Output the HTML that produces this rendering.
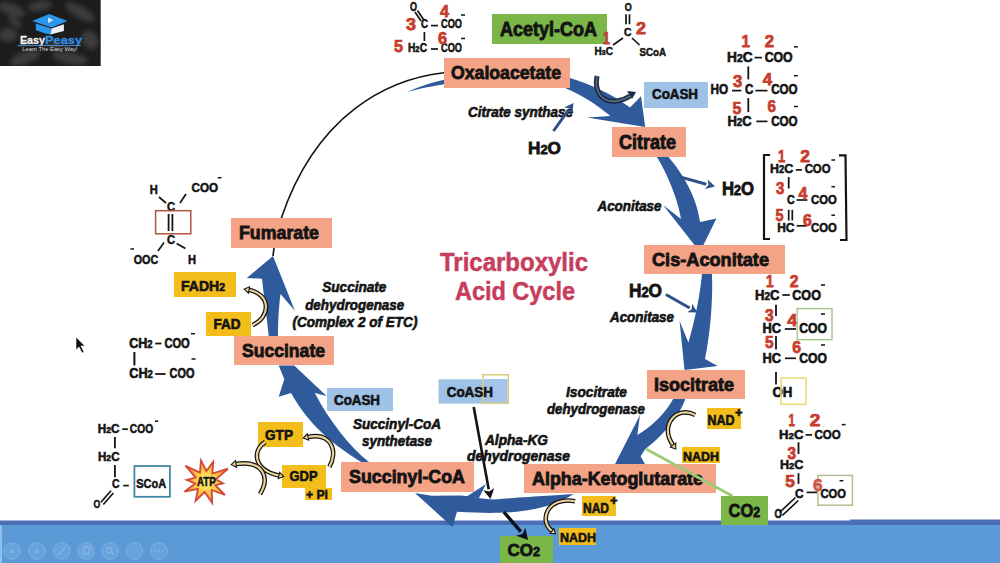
<!DOCTYPE html>
<html><head><meta charset="utf-8"><style>
html,body{margin:0;padding:0;background:#fff;}
svg{display:block;}
text{font-family:"Liberation Sans", sans-serif;}
</style></head><body>
<svg width="1000" height="563" viewBox="0 0 1000 563" fill="#141414" font-weight="bold">
<rect x="0" y="0" width="1000" height="563" fill="#ffffff" />
<rect x="0" y="525" width="1000" height="38" fill="#5b9ad6" />
<rect x="0" y="520.5" width="850" height="4.5" fill="#4a6db4" />
<rect x="850" y="519.5" width="150" height="5.5" fill="#4a6db4" />
<defs><filter id="bl" x="-20%" y="-20%" width="140%" height="140%"><feGaussianBlur stdDeviation="2.2"/></filter><clipPath id="lc"><rect x="0" y="0" width="100.7" height="66"/></clipPath></defs>
<rect x="0" y="0" width="100.7" height="66" fill="#1d1d1d" />
<g clip-path="url(#lc)" filter="url(#bl)" fill="#3a3a3a">
<ellipse cx="12" cy="10" rx="14" ry="6" transform="rotate(20 12 10)"/>
<ellipse cx="40" cy="6" rx="12" ry="5" transform="rotate(-10 40 6)"/>
<ellipse cx="80" cy="12" rx="16" ry="6" transform="rotate(30 80 12)"/>
<ellipse cx="8" cy="35" rx="10" ry="7" transform="rotate(0 8 35)"/>
<ellipse cx="90" cy="40" rx="10" ry="8" transform="rotate(60 90 40)"/>
<ellipse cx="25" cy="58" rx="16" ry="6" transform="rotate(-20 25 58)"/>
<ellipse cx="70" cy="58" rx="18" ry="6" transform="rotate(10 70 58)"/>
<ellipse cx="55" cy="45" rx="8" ry="4" transform="rotate(0 55 45)"/>
<ellipse cx="15" cy="22" rx="8" ry="4" transform="rotate(40 15 22)"/>
</g>
<path d="M32.2,21.1 L49.2,14.1 L67.4,21.1 L51.6,27.5 Z" fill="#2a96ec" />
<path d="M35.8,23.4 L51.6,28.5 L50.4,34.5 Q42,33 35.8,30 Z" fill="#2a96ec" />
<path d="M51.6,28.5 L63.9,24.2 L63.9,31 L50.4,34.5 Z" fill="#eef2f6" />
<path d="M48,17.4 L48,23 L53.3,20.2 Z" fill="#cfeaff" />
<text x="19.9" y="44" font-size="11.66" stroke="#f2f2f2" stroke-width="0.30" fill="#f2f2f2" textLength="25.2" lengthAdjust="spacingAndGlyphs" >Easy</text>
<text x="45.1" y="44" font-size="11.66" stroke="#2f8fe0" stroke-width="0.30" fill="#2f8fe0" textLength="37" lengthAdjust="spacingAndGlyphs" >Peasy</text>
<line x1="17.6" y1="45.6" x2="80.9" y2="45.6" stroke="#4f9fe6" stroke-width="0.9" />
<text x="22.3" y="51" font-size="5.83" font-weight="normal" fill="#d8d8d8" textLength="55.1" lengthAdjust="spacingAndGlyphs" >Learn The Easy Way!</text>
<path d="M444,72.7 C388,79 316,114 281,219" fill="none" stroke="#141414" stroke-width="1.6"/>
<path d="M273,256 L274,248" fill="none" stroke="#141414" stroke-width="1.6"/>
<path d="M407,92 Q425,84 444,79.8 L444,84.2 Q425,87 407,92 Z" fill="#2f5a9b" />
<path d="M570,78 C590,84 612,94 630,107.6 L641,96.2 L645.2,127 L587,117.5 L610.4,116 C596,104 582,95 566,88.4 Z" fill="#2f5a9b" />
<path d="M668.4,157 C678,168 696,192 700,222 L716.4,218.4 L700,252 L663,205 L681,219 C678,200 668,175 656.9,157 Z" fill="#2f5a9b" />
<path d="M711.9,274 C713,295 711,330 705,359 L717.7,365.9 L684.5,370 L679.6,320.9 L688.4,342.4 C695,320 700,295 702,274 Z" fill="#2f5a9b" />
<path d="M685.2,399 C682,410 668,432 645.3,449 L640.6,456.3 L646,466 L614,466 L640,415 L637.3,435 C650,428 665,414 673.2,399 Z" fill="#2f5a9b" />
<path d="M573.8,494 C560,495 530,496.5 495,499.5 C480,499 470,496 460,495.5 L431.6,495.8 L415,493 L452.4,527 L457,511.8 C475,513 490,513 500,512.8 C530,512 555,506 573.8,494 Z" fill="#2f5a9b" />
<path d="M466,497 L486,484 L479,498 Z" fill="#2f5a9b" />
<path d="M369,462 C350,447 330,422 314.8,393 L326.6,396 L294.2,365.6 L278.7,365.6 L284.3,379.3 L278.7,396.7 L291.1,393 C305,418 325,440 362,462.5 Z" fill="#2f5a9b" />
<path d="M278,336 C278,320 279,305 280.5,293.9 L294.9,310.8 L273,256 L246.8,277.9 L262,278.7 C264,298 267,318 268.7,336 Z" fill="#2f5a9b" />
<rect x="444" y="58" width="126" height="30" fill="#f5a386" />
<rect x="492" y="14" width="115" height="30" fill="#7ab648" />
<rect x="612" y="127" width="74" height="30" fill="#f5a386" />
<rect x="644" y="245" width="141" height="29" fill="#f5a386" />
<rect x="647" y="370" width="98" height="29" fill="#f5a386" />
<rect x="524" y="464" width="192" height="29" fill="#f5a386" />
<rect x="341" y="462" width="133" height="30" fill="#f5a386" />
<rect x="234" y="336" width="100" height="29" fill="#f5a386" />
<rect x="231" y="218" width="101" height="30" fill="#f5a386" />
<rect x="644" y="82" width="64" height="26" fill="#9fc3e7" />
<rect x="327" y="388" width="66" height="23" fill="#9fc3e7" />
<rect x="438.6" y="379.3" width="68.79999999999995" height="24.30000000000001" fill="#9fc3e7" />
<rect x="483.1" y="379.3" width="24.299999999999955" height="24.30000000000001" fill="#a6c3ec" />
<rect x="483.1" y="374.8" width="25.2" height="28.3" fill="none" stroke="#d6cf80" stroke-width="1.6"/>
<rect x="174" y="272" width="62" height="25" fill="#f3be1c" />
<rect x="206" y="312" width="45" height="24" fill="#f3be1c" />
<rect x="258" y="422" width="45" height="25" fill="#f3be1c" />
<rect x="282" y="465" width="44" height="23" fill="#f3be1c" />
<rect x="305" y="488" width="27" height="12" fill="#f3be1c" />
<rect x="707" y="408" width="34" height="21" fill="#f3be1c" />
<rect x="682" y="447" width="38" height="16" fill="#f3be1c" />
<rect x="582" y="496" width="34" height="20" fill="#f3be1c" />
<rect x="559" y="528" width="37" height="17" fill="#f3be1c" />
<rect x="721" y="496" width="47" height="29" fill="#7ab648" />
<rect x="500" y="536" width="53" height="27" fill="#7ab648" />
<text x="451" y="78.5" font-size="18.36" stroke="#141414" stroke-width="0.83" textLength="110" lengthAdjust="spacingAndGlyphs" >Oxaloacetate</text>
<text x="500" y="35.5" font-size="19.44" stroke="#141414" stroke-width="0.87" textLength="97" lengthAdjust="spacingAndGlyphs" >Acetyl-CoA</text>
<text x="619" y="148.5" font-size="19.44" stroke="#141414" stroke-width="0.87" textLength="57" lengthAdjust="spacingAndGlyphs" >Citrate</text>
<text x="652" y="266" font-size="18.36" stroke="#141414" stroke-width="0.83" textLength="117" lengthAdjust="spacingAndGlyphs" >Cis-Aconitate</text>
<text x="654" y="390.5" font-size="18.58" stroke="#141414" stroke-width="0.84" textLength="80" lengthAdjust="spacingAndGlyphs" >Isocitrate</text>
<text x="532" y="485" font-size="18.36" stroke="#141414" stroke-width="0.83" textLength="171" lengthAdjust="spacingAndGlyphs" >Alpha-Ketoglutarate</text>
<text x="349" y="483" font-size="18.36" stroke="#141414" stroke-width="0.83" textLength="116" lengthAdjust="spacingAndGlyphs" >Succinyl-CoA</text>
<text x="242" y="357" font-size="18.36" stroke="#141414" stroke-width="0.83" textLength="83" lengthAdjust="spacingAndGlyphs" >Succinate</text>
<text x="239" y="239" font-size="18.36" stroke="#141414" stroke-width="0.83" textLength="80" lengthAdjust="spacingAndGlyphs" >Fumarate</text>
<text x="652" y="99" font-size="14.04" stroke="#141414" stroke-width="0.63" textLength="46" lengthAdjust="spacingAndGlyphs" >CoASH</text>
<text x="334" y="405" font-size="14.04" stroke="#141414" stroke-width="0.63" textLength="46" lengthAdjust="spacingAndGlyphs" >CoASH</text>
<text x="446.7" y="396.8" font-size="15.12" stroke="#141414" stroke-width="0.68" textLength="46.3" lengthAdjust="spacingAndGlyphs" >CoASH</text>
<text x="181" y="290.5" font-size="14.04" stroke="#141414" stroke-width="0.63" textLength="44" lengthAdjust="spacingAndGlyphs" >FADH<tspan font-size="0.75em">2</tspan></text>
<text x="213.5" y="329" font-size="14.04" stroke="#141414" stroke-width="0.63" textLength="27" lengthAdjust="spacingAndGlyphs" >FAD</text>
<text x="265" y="439.8" font-size="14.04" stroke="#141414" stroke-width="0.63" textLength="28" lengthAdjust="spacingAndGlyphs" >GTP</text>
<text x="289.5" y="481.4" font-size="14.04" stroke="#141414" stroke-width="0.63" textLength="28" lengthAdjust="spacingAndGlyphs" >GDP</text>
<text x="306" y="498.5" font-size="12.96" stroke="#141414" stroke-width="0.58" textLength="22" lengthAdjust="spacingAndGlyphs" >+ Pi</text>
<text x="707.5" y="425" font-size="14.04" stroke="#141414" stroke-width="0.63" textLength="27" lengthAdjust="spacingAndGlyphs" >NAD</text>
<text x="735" y="417" font-size="12.96" stroke="#141414" stroke-width="0.58" >+</text>
<text x="683" y="461.2" font-size="12.96" stroke="#141414" stroke-width="0.58" textLength="36" lengthAdjust="spacingAndGlyphs" >NADH</text>
<text x="583" y="512.6" font-size="14.04" stroke="#141414" stroke-width="0.63" textLength="26" lengthAdjust="spacingAndGlyphs" >NAD</text>
<text x="610" y="505" font-size="12.96" stroke="#141414" stroke-width="0.58" >+</text>
<text x="560" y="542.3" font-size="12.96" stroke="#141414" stroke-width="0.58" textLength="36" lengthAdjust="spacingAndGlyphs" >NADH</text>
<text x="728.6" y="516.5" font-size="18.58" stroke="#141414" stroke-width="0.84" textLength="31.6" lengthAdjust="spacingAndGlyphs" >CO<tspan font-size="0.75em">2</tspan></text>
<text x="507.6" y="555.5" font-size="17.28" stroke="#141414" stroke-width="0.78" textLength="32.5" lengthAdjust="spacingAndGlyphs" >CO<tspan font-size="0.75em">2</tspan></text>
<text x="468" y="117.0" font-size="14.04" stroke="#141414" stroke-width="0.63" font-style="italic" textLength="105" lengthAdjust="spacingAndGlyphs" >Citrate synthase</text>
<text x="528" y="153.6" font-size="17.28" stroke="#141414" stroke-width="0.78" textLength="33" lengthAdjust="spacingAndGlyphs" >H<tspan font-size="0.75em">2</tspan>O</text>
<text x="597.5" y="211.3" font-size="14.04" stroke="#141414" stroke-width="0.63" font-style="italic" textLength="64" lengthAdjust="spacingAndGlyphs" >Aconitase</text>
<text x="722" y="194.7" font-size="18.36" stroke="#141414" stroke-width="0.83" textLength="32" lengthAdjust="spacingAndGlyphs" >H<tspan font-size="0.75em">2</tspan>O</text>
<text x="629" y="297" font-size="18.36" stroke="#141414" stroke-width="0.83" textLength="33" lengthAdjust="spacingAndGlyphs" >H<tspan font-size="0.75em">2</tspan>O</text>
<text x="610" y="321.6" font-size="14.04" stroke="#141414" stroke-width="0.63" font-style="italic" textLength="64" lengthAdjust="spacingAndGlyphs" >Aconitase</text>
<text x="566" y="397.3" font-size="14.04" stroke="#141414" stroke-width="0.63" font-style="italic" textLength="61" lengthAdjust="spacingAndGlyphs" >Isocitrate</text>
<text x="547" y="413.6" font-size="14.04" stroke="#141414" stroke-width="0.63" font-style="italic" textLength="98" lengthAdjust="spacingAndGlyphs" >dehydrogenase</text>
<text x="485" y="445.0" font-size="14.04" stroke="#141414" stroke-width="0.63" font-style="italic" textLength="63" lengthAdjust="spacingAndGlyphs" >Alpha-KG</text>
<text x="467" y="461.0" font-size="14.04" stroke="#141414" stroke-width="0.63" font-style="italic" textLength="103" lengthAdjust="spacingAndGlyphs" >dehydrogenase</text>
<text x="353" y="429.0" font-size="14.04" stroke="#141414" stroke-width="0.63" font-style="italic" textLength="88" lengthAdjust="spacingAndGlyphs" >Succinyl-CoA</text>
<text x="362" y="445.7" font-size="14.04" stroke="#141414" stroke-width="0.63" font-style="italic" textLength="70" lengthAdjust="spacingAndGlyphs" >synthetase</text>
<text x="322.3" y="292.3" font-size="14.04" stroke="#141414" stroke-width="0.63" font-style="italic" textLength="64" lengthAdjust="spacingAndGlyphs" >Succinate</text>
<text x="305.2" y="310.3" font-size="14.04" stroke="#141414" stroke-width="0.63" font-style="italic" textLength="99" lengthAdjust="spacingAndGlyphs" >dehydrogenase</text>
<text x="292.4" y="327.3" font-size="14.04" stroke="#141414" stroke-width="0.63" font-style="italic" textLength="125" lengthAdjust="spacingAndGlyphs" >(Complex 2 of ETC)</text>
<text x="440" y="271" font-size="26.14" stroke="#c73d5c" stroke-width="0.50" fill="#c73d5c" textLength="148" lengthAdjust="spacingAndGlyphs" >Tricarboxylic</text>
<text x="455" y="300" font-size="26.14" stroke="#c73d5c" stroke-width="0.50" fill="#c73d5c" textLength="120" lengthAdjust="spacingAndGlyphs" >Acid Cycle</text>
<line x1="553.5" y1="131" x2="568.2688562565281" y2="110.32360124086061" stroke="#2f5088" stroke-width="3"/>
<path d="M573.5,103 L572.2968369390014,113.20073029977014 L569.5766421923961,108.49270093064546 L564.2408755740548,107.44647218195108 Z" fill="#2f5088"/>
<line x1="679" y1="176.6" x2="706.3283388133306" y2="184.19120522592513" stroke="#2f5088" stroke-width="3"/>
<path d="M715,186.6 L705.0035016875894,188.96061887859332 L708.496254109998,184.79340391944385 L707.6531759390717,179.42179157325694 Z" fill="#2f5088"/>
<line x1="665.9" y1="294.5" x2="689.6797272515499" y2="308.04541425721203" stroke="#2f5088" stroke-width="3"/>
<path d="M697.5,312.5 L687.2297050930165,312.34656426885954 L691.6347954386624,309.159060692909 L692.1297494100834,303.7442642455645 Z" fill="#2f5088"/>
<line x1="473.7" y1="407" x2="488.70361844746805" y2="489.16267245042013" stroke="#141414" stroke-width="2.6"/>
<path d="M490.5,499 L483.29308829519914,490.15068230431274 L489.15271383560105,491.6220043378151 L494.11414859973695,488.1746625965275 Z" fill="#141414"/>
<line x1="503.8" y1="512" x2="520.8070865327688" y2="531.6776207817161" stroke="#0d0f1a" stroke-width="3.4"/>
<path d="M528,540 L516.2297779627127,535.6337231886932 L522.6053148995766,533.7582155862871 L525.384395102825,527.7215183747389 Z" fill="#0d0f1a"/>
<line x1="646" y1="449" x2="732.4" y2="496" stroke="#9ccb78" stroke-width="2.8" />
<path d="M597,76 C594,92 602,103 617,101 C624,100 627,98 630,96" fill="none" stroke="#1b2a45" stroke-width="5"/>
<path d="M597,76 C594,92 602,103 617,101 C624,100 627,98 630,96" fill="none" stroke="#56687c" stroke-width="1.8"/>
<path d="M636,92 L627,91 L632,99 Z" fill="#1b2a45" />
<path d="M252.6,325 C271,317 271,294 249,290" fill="none" stroke="#161616" stroke-width="4.6" stroke-linecap="butt"/>
<path d="M252.6,325 C271,317 271,294 249,290" fill="none" stroke="#ecd49a" stroke-width="2.1" stroke-linecap="butt"/>
<path d="M244.3,289.1 L249.6,286.8 L248.4,293.2 Z" fill="#ecd49a" stroke="#161616" stroke-width="1.1" stroke-linejoin="miter"/>
<path d="M695.2,415 C676,405 659,426 673,445" fill="none" stroke="#161616" stroke-width="4.6" stroke-linecap="butt"/>
<path d="M695.2,415 C676,405 659,426 673,445" fill="none" stroke="#ecd49a" stroke-width="2.1" stroke-linecap="butt"/>
<path d="M675.8,448.9 L670.3,447.0 L675.7,443.0 Z" fill="#ecd49a" stroke="#161616" stroke-width="1.1" stroke-linejoin="miter"/>
<path d="M575,501.2 C548,496 538,520 552,531" fill="none" stroke="#161616" stroke-width="4.6" stroke-linecap="butt"/>
<path d="M575,501.2 C548,496 538,520 552,531" fill="none" stroke="#ecd49a" stroke-width="2.1" stroke-linecap="butt"/>
<path d="M555.5,533.8 L550.1,533.4 L553.9,528.6 Z" fill="#ecd49a" stroke="#161616" stroke-width="1.1" stroke-linejoin="miter"/>
<path d="M265.3,442 C252,450 253,470 279,475.5" fill="none" stroke="#161616" stroke-width="4.6" stroke-linecap="butt"/>
<path d="M265.3,442 C252,450 253,470 279,475.5" fill="none" stroke="#ecd49a" stroke-width="2.1" stroke-linecap="butt"/>
<path d="M283.7,476.5 L278.3,478.7 L279.7,472.3 Z" fill="#ecd49a" stroke="#161616" stroke-width="1.1" stroke-linejoin="miter"/>
<path d="M260,494 C270,478 264,460 236,464" fill="none" stroke="#161616" stroke-width="4.6" stroke-linecap="butt"/>
<path d="M260,494 C270,478 264,460 236,464" fill="none" stroke="#ecd49a" stroke-width="2.1" stroke-linecap="butt"/>
<path d="M231.2,464.7 L235.5,460.7 L236.5,467.3 Z" fill="#ecd49a" stroke="#161616" stroke-width="1.1" stroke-linejoin="miter"/>
<path d="M329.4,466.8 C338,452 332,432 308,437" fill="none" stroke="#161616" stroke-width="4.6" stroke-linecap="butt"/>
<path d="M329.4,466.8 C338,452 332,432 308,437" fill="none" stroke="#ecd49a" stroke-width="2.1" stroke-linecap="butt"/>
<path d="M303.3,438.0 L307.3,433.8 L308.7,440.2 Z" fill="#ecd49a" stroke="#161616" stroke-width="1.1" stroke-linejoin="miter"/>
<text x="410" y="10.5" font-size="11.88" stroke="#141414" stroke-width="0.53" textLength="7" lengthAdjust="spacingAndGlyphs" >O</text>
<line x1="415" y1="12" x2="421" y2="21" stroke="#141414" stroke-width="1.7" />
<line x1="417.5" y1="10.5" x2="423.5" y2="19.5" stroke="#141414" stroke-width="1.7" />
<text x="421" y="27.6" font-size="12.42" stroke="#141414" stroke-width="0.56" textLength="7" lengthAdjust="spacingAndGlyphs" >C</text>
<line x1="431" y1="25.6" x2="438" y2="25.6" stroke="#141414" stroke-width="1.7" />
<text x="441" y="27.6" font-size="12.42" stroke="#141414" stroke-width="0.56" textLength="21" lengthAdjust="spacingAndGlyphs" >COO</text>
<line x1="461" y1="15" x2="465" y2="15" stroke="#111" stroke-width="1.5"/>
<line x1="424.4" y1="32" x2="424.4" y2="41" stroke="#141414" stroke-width="1.7" />
<text x="408" y="52.4" font-size="12.42" stroke="#141414" stroke-width="0.56" textLength="19" lengthAdjust="spacingAndGlyphs" >H<tspan font-size="0.75em">2</tspan>C</text>
<line x1="431" y1="49" x2="438" y2="49" stroke="#141414" stroke-width="1.7" />
<text x="441" y="52.4" font-size="12.42" stroke="#141414" stroke-width="0.56" textLength="21" lengthAdjust="spacingAndGlyphs" >COO</text>
<line x1="461" y1="38.5" x2="465" y2="38.5" stroke="#111" stroke-width="1.5"/>
<text x="406" y="30" font-size="16.74" stroke="#c83c2c" stroke-width="0.75" fill="#c83c2c" textLength="10" lengthAdjust="spacingAndGlyphs" >3</text>
<text x="440" y="17" font-size="16.74" stroke="#c83c2c" stroke-width="0.75" fill="#c83c2c" textLength="9" lengthAdjust="spacingAndGlyphs" >4</text>
<text x="394" y="51.6" font-size="16.74" stroke="#c83c2c" stroke-width="0.75" fill="#c83c2c" textLength="9" lengthAdjust="spacingAndGlyphs" >5</text>
<text x="438" y="44.4" font-size="16.74" stroke="#c83c2c" stroke-width="0.75" fill="#c83c2c" textLength="9" lengthAdjust="spacingAndGlyphs" >6</text>
<text x="624.8" y="10.6" font-size="10.8" stroke="#141414" stroke-width="0.49" textLength="7" lengthAdjust="spacingAndGlyphs" >O</text>
<line x1="626" y1="14.3" x2="626" y2="24.2" stroke="#141414" stroke-width="1.7" />
<line x1="629.5" y1="14.3" x2="629.5" y2="24.2" stroke="#141414" stroke-width="1.7" />
<text x="624" y="36.3" font-size="10.8" stroke="#141414" stroke-width="0.49" textLength="7.5" lengthAdjust="spacingAndGlyphs" >C</text>
<line x1="623" y1="38" x2="613" y2="45" stroke="#141414" stroke-width="1.7" />
<line x1="632" y1="38" x2="639.5" y2="45" stroke="#141414" stroke-width="1.7" />
<text x="594.4" y="55" font-size="10.8" stroke="#141414" stroke-width="0.49" textLength="18.6" lengthAdjust="spacingAndGlyphs" >H<tspan font-size="0.75em">3</tspan>C</text>
<text x="639.5" y="56" font-size="10.8" stroke="#141414" stroke-width="0.49" textLength="26.5" lengthAdjust="spacingAndGlyphs" >SCoA</text>
<text x="603" y="43.6" font-size="16.74" stroke="#c83c2c" stroke-width="0.75" fill="#c83c2c" textLength="7" lengthAdjust="spacingAndGlyphs" >1</text>
<text x="636" y="34" font-size="16.74" stroke="#c83c2c" stroke-width="0.75" fill="#c83c2c" textLength="10" lengthAdjust="spacingAndGlyphs" >2</text>
<text x="727" y="61.7" font-size="14.04" stroke="#141414" stroke-width="0.63" textLength="25.6" lengthAdjust="spacingAndGlyphs" >H<tspan font-size="0.75em">2</tspan>C</text>
<line x1="754.4" y1="57.6" x2="761.9" y2="57.6" stroke="#141414" stroke-width="1.7" />
<text x="764.7" y="61.7" font-size="14.04" stroke="#141414" stroke-width="0.63" textLength="28" lengthAdjust="spacingAndGlyphs" >COO</text>
<line x1="794" y1="46.8" x2="797.8" y2="46.8" stroke="#111" stroke-width="1.5"/>
<text x="741.4" y="46.8" font-size="16.74" stroke="#c83c2c" stroke-width="0.75" fill="#c83c2c" textLength="8.4" lengthAdjust="spacingAndGlyphs" >1</text>
<text x="764.7" y="46.8" font-size="16.74" stroke="#c83c2c" stroke-width="0.75" fill="#c83c2c" textLength="9.3" lengthAdjust="spacingAndGlyphs" >2</text>
<line x1="748.3" y1="66.4" x2="748.3" y2="79.4" stroke="#141414" stroke-width="1.8" />
<text x="710.6" y="94.4" font-size="14.04" stroke="#141414" stroke-width="0.63" textLength="17.7" lengthAdjust="spacingAndGlyphs" >HO</text>
<line x1="732" y1="90.6" x2="741.4" y2="90.6" stroke="#141414" stroke-width="1.7" />
<text x="745.1" y="94.4" font-size="14.04" stroke="#141414" stroke-width="0.63" textLength="8.4" lengthAdjust="spacingAndGlyphs" >C</text>
<line x1="755.4" y1="90.6" x2="767.5" y2="90.6" stroke="#141414" stroke-width="1.7" />
<text x="771.2" y="94.4" font-size="14.04" stroke="#141414" stroke-width="0.63" textLength="26.4" lengthAdjust="spacingAndGlyphs" >COO</text>
<line x1="794" y1="75.7" x2="797.8" y2="75.7" stroke="#111" stroke-width="1.5"/>
<text x="733" y="86.9" font-size="16.74" stroke="#c83c2c" stroke-width="0.75" fill="#c83c2c" textLength="9.3" lengthAdjust="spacingAndGlyphs" >3</text>
<text x="762.8" y="85" font-size="16.74" stroke="#c83c2c" stroke-width="0.75" fill="#c83c2c" textLength="9.4" lengthAdjust="spacingAndGlyphs" >4</text>
<line x1="748.3" y1="98.1" x2="748.3" y2="112.1" stroke="#141414" stroke-width="1.8" />
<text x="727.4" y="126.1" font-size="14.04" stroke="#141414" stroke-width="0.63" textLength="24.2" lengthAdjust="spacingAndGlyphs" >H<tspan font-size="0.75em">2</tspan>C</text>
<line x1="756.3" y1="121.4" x2="767.5" y2="121.4" stroke="#141414" stroke-width="1.7" />
<text x="771.2" y="126.1" font-size="14.04" stroke="#141414" stroke-width="0.63" textLength="26.4" lengthAdjust="spacingAndGlyphs" >COO</text>
<line x1="794" y1="106.5" x2="797.8" y2="106.5" stroke="#111" stroke-width="1.5"/>
<text x="732.6" y="114" font-size="16.74" stroke="#c83c2c" stroke-width="0.75" fill="#c83c2c" textLength="8.8" lengthAdjust="spacingAndGlyphs" >5</text>
<text x="767.5" y="112.1" font-size="16.74" stroke="#c83c2c" stroke-width="0.75" fill="#c83c2c" textLength="8.4" lengthAdjust="spacingAndGlyphs" >6</text>
<path d="M770,155 L764,155 L764,239 L770,239" fill="none" stroke="#141414" stroke-width="2.2"/>
<path d="M839,155.3 L845.5,155.3 L846.5,240 L840,240" fill="none" stroke="#141414" stroke-width="2.2"/>
<text x="770.1" y="173.4" font-size="13.5" stroke="#141414" stroke-width="0.61" textLength="23.1" lengthAdjust="spacingAndGlyphs" >H<tspan font-size="0.75em">2</tspan>C</text>
<line x1="795.9" y1="169.9" x2="802" y2="169.9" stroke="#141414" stroke-width="1.7" />
<text x="804.7" y="173.4" font-size="13.5" stroke="#141414" stroke-width="0.61" textLength="25.8" lengthAdjust="spacingAndGlyphs" >COO</text>
<line x1="831.4" y1="160" x2="835.0" y2="160" stroke="#111" stroke-width="1.5"/>
<text x="778" y="161.9" font-size="16.74" stroke="#c83c2c" stroke-width="0.75" fill="#c83c2c" textLength="7.2" lengthAdjust="spacingAndGlyphs" >1</text>
<text x="800.3" y="161.9" font-size="16.74" stroke="#c83c2c" stroke-width="0.75" fill="#c83c2c" textLength="9.7" lengthAdjust="spacingAndGlyphs" >2</text>
<line x1="788.7" y1="177" x2="788.7" y2="188.5" stroke="#141414" stroke-width="1.8" />
<text x="787" y="203.6" font-size="13.5" stroke="#141414" stroke-width="0.61" textLength="7.6" lengthAdjust="spacingAndGlyphs" >C</text>
<line x1="796.7" y1="200" x2="807.4" y2="200" stroke="#141414" stroke-width="1.7" />
<text x="811" y="203.6" font-size="13.5" stroke="#141414" stroke-width="0.61" textLength="25.7" lengthAdjust="spacingAndGlyphs" >COO</text>
<line x1="831.4" y1="186.7" x2="835.0" y2="186.7" stroke="#111" stroke-width="1.5"/>
<text x="776" y="193.8" font-size="16.74" stroke="#c83c2c" stroke-width="0.75" fill="#c83c2c" textLength="8.3" lengthAdjust="spacingAndGlyphs" >3</text>
<text x="798.5" y="199.2" font-size="16.74" stroke="#c83c2c" stroke-width="0.75" fill="#c83c2c" textLength="8.9" lengthAdjust="spacingAndGlyphs" >4</text>
<line x1="788.7" y1="209.8" x2="788.7" y2="220.5" stroke="#141414" stroke-width="1.7" />
<line x1="792.3" y1="209.8" x2="792.3" y2="220.5" stroke="#141414" stroke-width="1.7" />
<text x="777.2" y="232" font-size="13.5" stroke="#141414" stroke-width="0.61" textLength="17.2" lengthAdjust="spacingAndGlyphs" >HC</text>
<line x1="796.7" y1="225.8" x2="806.5" y2="225.8" stroke="#141414" stroke-width="1.7" />
<text x="811" y="232" font-size="13.5" stroke="#141414" stroke-width="0.61" textLength="25.7" lengthAdjust="spacingAndGlyphs" >COO</text>
<line x1="831.4" y1="215.2" x2="835.0" y2="215.2" stroke="#111" stroke-width="1.5"/>
<text x="775.4" y="221.4" font-size="16.74" stroke="#c83c2c" stroke-width="0.75" fill="#c83c2c" textLength="8" lengthAdjust="spacingAndGlyphs" >5</text>
<text x="803" y="225.8" font-size="16.74" stroke="#c83c2c" stroke-width="0.75" fill="#c83c2c" textLength="8.8" lengthAdjust="spacingAndGlyphs" >6</text>
<text x="755" y="299.9" font-size="14.04" stroke="#141414" stroke-width="0.63" textLength="24.5" lengthAdjust="spacingAndGlyphs" >H<tspan font-size="0.75em">2</tspan>C</text>
<line x1="782.3" y1="295" x2="789.8" y2="295" stroke="#141414" stroke-width="1.7" />
<text x="792.3" y="299.9" font-size="14.04" stroke="#141414" stroke-width="0.63" textLength="28.6" lengthAdjust="spacingAndGlyphs" >COO</text>
<line x1="821" y1="285" x2="825" y2="285" stroke="#111" stroke-width="1.5"/>
<text x="766" y="287.4" font-size="16.74" stroke="#c83c2c" stroke-width="0.75" fill="#c83c2c" textLength="7.6" lengthAdjust="spacingAndGlyphs" >1</text>
<text x="789.8" y="287.4" font-size="16.74" stroke="#c83c2c" stroke-width="0.75" fill="#c83c2c" textLength="8.7" lengthAdjust="spacingAndGlyphs" >2</text>
<line x1="776" y1="304.8" x2="776" y2="316" stroke="#141414" stroke-width="1.8" />
<text x="762.4" y="332.7" font-size="14.04" stroke="#141414" stroke-width="0.63" textLength="18.6" lengthAdjust="spacingAndGlyphs" >HC</text>
<line x1="784.8" y1="329" x2="796" y2="329" stroke="#141414" stroke-width="1.7" />
<text x="799.2" y="332.7" font-size="14.04" stroke="#141414" stroke-width="0.63" textLength="27.8" lengthAdjust="spacingAndGlyphs" >COO</text>
<line x1="821" y1="314" x2="825" y2="314" stroke="#111" stroke-width="1.5"/>
<text x="765" y="321" font-size="16.74" stroke="#c83c2c" stroke-width="0.75" fill="#c83c2c" textLength="8.6" lengthAdjust="spacingAndGlyphs" >3</text>
<text x="787.3" y="326" font-size="16.74" stroke="#c83c2c" stroke-width="0.75" fill="#c83c2c" textLength="9.9" lengthAdjust="spacingAndGlyphs" >4</text>
<rect x="797.2" y="308.6" width="34.8" height="31.1" fill="none" stroke="#a9c58b" stroke-width="1.4"/>
<line x1="776" y1="336" x2="776" y2="349.6" stroke="#141414" stroke-width="1.8" />
<text x="762.4" y="363.3" font-size="14.04" stroke="#141414" stroke-width="0.63" textLength="18.6" lengthAdjust="spacingAndGlyphs" >HC</text>
<line x1="785" y1="358.3" x2="796" y2="358.3" stroke="#141414" stroke-width="1.7" />
<text x="799.2" y="363.3" font-size="14.04" stroke="#141414" stroke-width="0.63" textLength="27.8" lengthAdjust="spacingAndGlyphs" >COO</text>
<line x1="821" y1="345" x2="825" y2="345" stroke="#111" stroke-width="1.5"/>
<text x="765" y="348.4" font-size="16.74" stroke="#c83c2c" stroke-width="0.75" fill="#c83c2c" textLength="8.6" lengthAdjust="spacingAndGlyphs" >5</text>
<text x="792.3" y="353.3" font-size="16.74" stroke="#c83c2c" stroke-width="0.75" fill="#c83c2c" textLength="8.7" lengthAdjust="spacingAndGlyphs" >6</text>
<line x1="776" y1="372" x2="776" y2="384.4" stroke="#141414" stroke-width="1.8" />
<text x="772.4" y="396.9" font-size="14.04" stroke="#141414" stroke-width="0.63" textLength="19.9" lengthAdjust="spacingAndGlyphs" >OH</text>
<rect x="781" y="378" width="25" height="26.3" fill="none" stroke="#e9dc7a" stroke-width="1.6"/>
<text x="779" y="438.7" font-size="13.18" stroke="#141414" stroke-width="0.59" textLength="24.4" lengthAdjust="spacingAndGlyphs" >H<tspan font-size="0.75em">2</tspan>C</text>
<line x1="805.5" y1="434.9" x2="812" y2="434.9" stroke="#141414" stroke-width="1.7" />
<text x="814.5" y="438.7" font-size="13.18" stroke="#141414" stroke-width="0.59" textLength="26.2" lengthAdjust="spacingAndGlyphs" >COO</text>
<line x1="841.8" y1="424.6" x2="845.5999999999999" y2="424.6" stroke="#111" stroke-width="1.5"/>
<text x="788.5" y="426.3" font-size="16.74" stroke="#c83c2c" stroke-width="0.75" fill="#c83c2c" textLength="6.4" lengthAdjust="spacingAndGlyphs" >1</text>
<text x="809.8" y="426.3" font-size="16.74" stroke="#c83c2c" stroke-width="0.75" fill="#c83c2c" textLength="10.6" lengthAdjust="spacingAndGlyphs" >2</text>
<line x1="798.5" y1="442.3" x2="798.5" y2="454" stroke="#141414" stroke-width="1.8" />
<text x="780" y="469" font-size="13.18" stroke="#141414" stroke-width="0.59" textLength="23.4" lengthAdjust="spacingAndGlyphs" >H<tspan font-size="0.75em">2</tspan>C</text>
<text x="787.4" y="459.4" font-size="16.74" stroke="#c83c2c" stroke-width="0.75" fill="#c83c2c" textLength="8.5" lengthAdjust="spacingAndGlyphs" >3</text>
<line x1="798.5" y1="473.2" x2="798.5" y2="483.9" stroke="#141414" stroke-width="1.8" />
<text x="785.3" y="487.1" font-size="16.74" stroke="#c83c2c" stroke-width="0.75" fill="#c83c2c" textLength="9.6" lengthAdjust="spacingAndGlyphs" >5</text>
<text x="794.9" y="497.7" font-size="13.18" stroke="#141414" stroke-width="0.59" textLength="8.5" lengthAdjust="spacingAndGlyphs" >C</text>
<line x1="806.6" y1="492.4" x2="817.2" y2="492.4" stroke="#141414" stroke-width="1.7" />
<text x="820.4" y="497.7" font-size="13.18" stroke="#141414" stroke-width="0.59" textLength="25.6" lengthAdjust="spacingAndGlyphs" >COO</text>
<line x1="839.6" y1="480.7" x2="843.4" y2="480.7" stroke="#111" stroke-width="1.5"/>
<rect x="817.9" y="475.4" width="34.5" height="29.8" fill="none" stroke="#b9bb92" stroke-width="1.5"/>
<text x="813" y="491.4" font-size="16.74" stroke="#c83c2c" stroke-width="0.75" fill="#c83c2c" textLength="9.6" lengthAdjust="spacingAndGlyphs" opacity="0.85">6</text>
<line x1="795.5" y1="497.5" x2="779.5" y2="512.5" stroke="#141414" stroke-width="1.7" />
<line x1="798.3" y1="500.5" x2="782.3" y2="515.5" stroke="#141414" stroke-width="1.7" />
<text x="774.6" y="518" font-size="11.88" stroke="#141414" stroke-width="0.53" textLength="7.4" lengthAdjust="spacingAndGlyphs" >O</text>
<text x="97.7" y="433.3" font-size="12.1" stroke="#141414" stroke-width="0.54" textLength="21.8" lengthAdjust="spacingAndGlyphs" >H<tspan font-size="0.75em">2</tspan>C</text>
<line x1="122.3" y1="429.2" x2="127.9" y2="429.2" stroke="#141414" stroke-width="1.7" />
<text x="129.8" y="433.3" font-size="12.1" stroke="#141414" stroke-width="0.54" textLength="23.3" lengthAdjust="spacingAndGlyphs" >COO</text>
<line x1="155" y1="421.2" x2="158.2" y2="421.2" stroke="#111" stroke-width="1.5"/>
<line x1="114.9" y1="437" x2="114.9" y2="448.2" stroke="#141414" stroke-width="1.8" />
<text x="98" y="461.3" font-size="12.1" stroke="#141414" stroke-width="0.54" textLength="21.5" lengthAdjust="spacingAndGlyphs" >H<tspan font-size="0.75em">2</tspan>C</text>
<line x1="114.9" y1="465" x2="114.9" y2="477.2" stroke="#141414" stroke-width="1.8" />
<text x="112" y="488.4" font-size="12.1" stroke="#141414" stroke-width="0.54" textLength="7.5" lengthAdjust="spacingAndGlyphs" >C</text>
<line x1="123.2" y1="485.6" x2="128.8" y2="485.6" stroke="#141414" stroke-width="1.7" />
<text x="136.3" y="488.4" font-size="12.1" stroke="#141414" stroke-width="0.54" textLength="29.9" lengthAdjust="spacingAndGlyphs" >SCoA</text>
<rect x="134.4" y="466" width="35.5" height="30.8" fill="none" stroke="#3f88a6" stroke-width="1.8"/>
<line x1="100.9" y1="502.3" x2="111" y2="490.8" stroke="#141414" stroke-width="1.7" />
<line x1="103.3" y1="504.5" x2="113.4" y2="493" stroke="#141414" stroke-width="1.7" />
<text x="93.4" y="508" font-size="11.34" stroke="#141414" stroke-width="0.51" textLength="6.8" lengthAdjust="spacingAndGlyphs" >O</text>
<defs><radialGradient id="sg" cx="0.5" cy="0.5" r="0.5"><stop offset="0" stop-color="#fff27a"/><stop offset="0.45" stop-color="#ffd24a"/><stop offset="1" stop-color="#f08a3a"/></radialGradient></defs>
<polygon points="201,460.4 206.4,471.0 213.2,461.8 212.4,473.6 227.9,468.7 215.8,479.3 223,483.3 215.3,485.2 224.9,495 211.7,490.0 212.2,502.9 204.6,492.0 195.6,500.9 198.0,488.8 184.4,491.6 195.2,483.4 186.8,479.9 195.7,477.6 185.4,465.7 199.9,472.6" fill="url(#sg)" stroke="#d2483a" stroke-width="1.8" stroke-linejoin="miter"/>
<text x="197" y="485.8" font-size="11.88" stroke="#141414" stroke-width="0.53" textLength="18.6" lengthAdjust="spacingAndGlyphs" >ATP</text>
<text x="129.2" y="347.5" font-size="13.72" stroke="#141414" stroke-width="0.62" textLength="23.4" lengthAdjust="spacingAndGlyphs" >CH<tspan font-size="0.75em">2</tspan></text>
<line x1="155.2" y1="343.5" x2="161.5" y2="343.5" stroke="#141414" stroke-width="1.8" />
<text x="164.4" y="347.5" font-size="13.72" stroke="#141414" stroke-width="0.62" textLength="25.4" lengthAdjust="spacingAndGlyphs" >COO</text>
<line x1="191" y1="333.7" x2="195" y2="333.7" stroke="#111" stroke-width="1.5"/>
<line x1="134.4" y1="352" x2="134.4" y2="365.4" stroke="#141414" stroke-width="2" />
<text x="129.2" y="378" font-size="13.72" stroke="#141414" stroke-width="0.62" textLength="23.7" lengthAdjust="spacingAndGlyphs" >CH<tspan font-size="0.75em">2</tspan></text>
<line x1="155.2" y1="374" x2="165.6" y2="374" stroke="#141414" stroke-width="1.8" />
<text x="169.6" y="378" font-size="13.72" stroke="#141414" stroke-width="0.62" textLength="24.8" lengthAdjust="spacingAndGlyphs" >COO</text>
<line x1="191.5" y1="359" x2="195.5" y2="359" stroke="#111" stroke-width="1.5"/>
<text x="149.7" y="193.8" font-size="11.88" stroke="#141414" stroke-width="0.53" textLength="8" lengthAdjust="spacingAndGlyphs" >H</text>
<line x1="159" y1="197" x2="166" y2="203" stroke="#141414" stroke-width="1.7" />
<line x1="180" y1="203" x2="186" y2="194" stroke="#141414" stroke-width="1.7" />
<text x="191.5" y="192" font-size="11.88" stroke="#141414" stroke-width="0.53" textLength="26.5" lengthAdjust="spacingAndGlyphs" >COO</text>
<line x1="217.7" y1="177.7" x2="221.5" y2="177.7" stroke="#111" stroke-width="1.5"/>
<text x="167" y="210.7" font-size="11.88" stroke="#141414" stroke-width="0.53" textLength="8" lengthAdjust="spacingAndGlyphs" >C</text>
<rect x="155.6" y="210.7" width="35.2" height="23.1" fill="none" stroke="#b0533f" stroke-width="1.5"/>
<line x1="168.6" y1="214" x2="168.6" y2="231" stroke="#141414" stroke-width="1.8" />
<line x1="172.4" y1="214" x2="172.4" y2="231" stroke="#141414" stroke-width="1.8" />
<text x="167" y="243.7" font-size="11.88" stroke="#141414" stroke-width="0.53" textLength="8" lengthAdjust="spacingAndGlyphs" >C</text>
<line x1="164" y1="242.5" x2="158" y2="251" stroke="#141414" stroke-width="1.7" />
<line x1="176.6" y1="243.5" x2="185.4" y2="248.5" stroke="#141414" stroke-width="1.7" />
<text x="133.7" y="263.6" font-size="11.88" stroke="#141414" stroke-width="0.53" textLength="24.5" lengthAdjust="spacingAndGlyphs" >OOC</text>
<line x1="130.5" y1="249" x2="134.0" y2="249" stroke="#111" stroke-width="1.5"/>
<text x="188" y="263.5" font-size="11.88" stroke="#141414" stroke-width="0.53" textLength="8" lengthAdjust="spacingAndGlyphs" >H</text>
<path d="M76,337 L76,350 L79,347 L82,353 L84,352 L81,346 L85,346 Z" fill="#111" stroke="#fff" stroke-width="0.6"/>
<circle cx="12" cy="551" r="8.2" fill="#66a2dc" stroke="#86b3e3" stroke-width="0.9"/>
<circle cx="37" cy="551" r="8.2" fill="#66a2dc" stroke="#86b3e3" stroke-width="0.9"/>
<circle cx="61.6" cy="551" r="8.2" fill="#66a2dc" stroke="#86b3e3" stroke-width="0.9"/>
<circle cx="86" cy="551" r="8.2" fill="#66a2dc" stroke="#86b3e3" stroke-width="0.9"/>
<circle cx="110" cy="551" r="8.2" fill="#66a2dc" stroke="#86b3e3" stroke-width="0.9"/>
<circle cx="134.4" cy="551" r="8.2" fill="#66a2dc" stroke="#86b3e3" stroke-width="0.9"/>
<circle cx="159" cy="551" r="8.2" fill="#66a2dc" stroke="#86b3e3" stroke-width="0.9"/>
<path d="M13.5,548 L10,551 L13.5,554 Z" fill="#86b3e3"/>
<path d="M35.5,548 L39,551 L35.5,554 Z" fill="#86b3e3"/>
<line x1="57.5" y1="555" x2="65.5" y2="547" stroke="#86b3e3" stroke-width="1.4"/>
<rect x="82.5" y="547.5" width="6" height="7" fill="none" stroke="#86b3e3" stroke-width="1"/>
<rect x="84.5" y="546" width="6" height="7" fill="none" stroke="#86b3e3" stroke-width="1"/>
<circle cx="109" cy="550" r="2.8" fill="none" stroke="#86b3e3" stroke-width="1.1"/><line x1="111" y1="552" x2="114" y2="555" stroke="#86b3e3" stroke-width="1.3"/>
<circle cx="155.5" cy="551" r="1" fill="#86b3e3"/><circle cx="159" cy="551" r="1" fill="#86b3e3"/><circle cx="162.5" cy="551" r="1" fill="#86b3e3"/>
<rect x="0" y="525" width="2" height="38" fill="#8fc0ec" />
</svg>
</body></html>
